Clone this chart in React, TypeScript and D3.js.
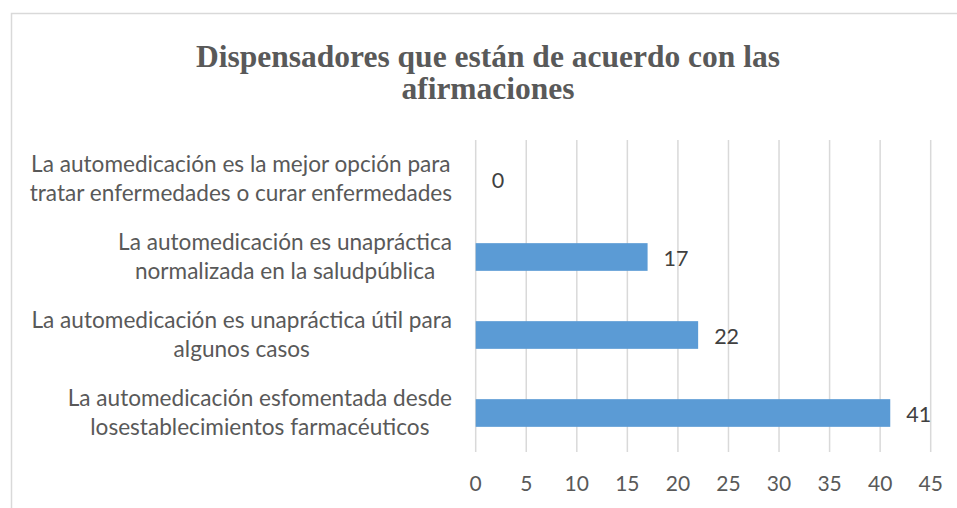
import React, { useEffect, useRef } from "react";
import * as d3 from "d3";

const titleLines = ["Dispensadores que están de acuerdo con las", "afirmaciones"];
const categories: string[][] = [
  ["La automedicación es la mejor opción para", "tratar enfermedades o curar enfermedades"],
  ["La automedicación es unapráctica", "normalizada en la saludpública"],
  ["La automedicación es unapráctica útil para", "algunos casos"],
  ["La automedicación esfomentada desde", "losestablecimientos farmacéuticos"],
];
const values = [0, 17, 22, 41];
const xTicks = [0, 5, 10, 15, 20, 25, 30, 35, 40, 45];

const W = 957;
const H = 508;
const FONT = "Lato, 'Open Sans', sans-serif";

export default function App() {
  const ref = useRef<SVGSVGElement | null>(null);

  useEffect(() => {
    const svg = d3.select(ref.current);
    svg.selectAll("*").remove();

    const x = d3.scaleLinear().domain([0, 45]).range([475.7, 930.7]);
    const y = d3
      .scaleBand<number>()
      .domain(categories.map((_, i) => i))
      .range([140, 452])
      .paddingInner(0.645)
      .paddingOuter(0.3225);

    // chart border
    svg
      .append("rect")
      .attr("x", 11.5)
      .attr("y", 13.5)
      .attr("width", 960)
      .attr("height", 520)
      .attr("fill", "#fff")
      .attr("stroke", "#d9d9d9")
      .attr("stroke-width", 1.5);

    // title
    const title = svg
      .append("text")
      .attr("text-anchor", "middle")
      .attr("font-family", "'Liberation Serif', 'Times New Roman', serif")
      .attr("font-weight", "bold")
      .attr("font-size", 31.5)
      .attr("fill", "#595959");
    titleLines.forEach((t, i) => {
      title
        .append("tspan")
        .attr("x", 488)
        .attr("y", 66.5 + i * 32.5)
        .text(t);
    });

    // gridlines
    svg
      .append("g")
      .selectAll("line")
      .data(xTicks)
      .join("line")
      .attr("x1", (d) => x(d))
      .attr("x2", (d) => x(d))
      .attr("y1", 140)
      .attr("y2", 452)
      .attr("stroke", "#d9d9d9")
      .attr("stroke-width", 1.5);

    // tick labels
    svg
      .append("g")
      .selectAll("text")
      .data(xTicks)
      .join("text")
      .attr("x", (d) => x(d))
      .attr("y", 484)
      .attr("dy", "0.35em")
      .attr("text-anchor", "middle")
      .attr("font-family", FONT)
      .attr("font-size", 21)
      .attr("fill", "#595959")
      .text((d) => String(d));

    // bars
    svg
      .append("g")
      .selectAll("rect")
      .data(values)
      .join("rect")
      .attr("x", x(0))
      .attr("y", (_, i) => y(i)!)
      .attr("width", (d) => x(d) - x(0))
      .attr("height", y.bandwidth())
      .attr("fill", "#5b9bd5");

    // data labels
    svg
      .append("g")
      .selectAll("text")
      .data(values)
      .join("text")
      .attr("x", (d) => x(d) + 16)
      .attr("y", (_, i) => y(i)! + y.bandwidth() / 2 + 1.5)
      .attr("dy", "0.35em")
      .attr("font-family", FONT)
      .attr("font-size", 21.5)
      .attr("fill", "#404040")
      .text((d) => String(d));

    // category labels (block right-aligned, lines centered)
    const rightEdge = 452;
    const lineH = 29;
    categories.forEach((lines, i) => {
      const cy = y(i)! + y.bandwidth() / 2;
      const g = svg.append("g");
      const texts = lines.map((ln, j) =>
        g
          .append("text")
          .attr("y", cy + (j - (lines.length - 1) / 2) * lineH)
          .attr("dy", "0.35em")
          .attr("text-anchor", "middle")
          .attr("font-family", FONT)
          .attr("font-size", 22.6)
          .attr("fill", "#595959")
          .text(ln)
      );
      const widths = texts.map((t) => (t.node() as SVGTextElement).getComputedTextLength());
      const maxW = d3.max(widths) || 0;
      texts.forEach((t) => t.attr("x", rightEdge - maxW / 2));
    });
  }, []);

  return (
    <svg
      ref={ref}
      width={W}
      height={H}
      style={{ position: "absolute", left: 0, top: 0, background: "#fff" }}
    />
  );
}
